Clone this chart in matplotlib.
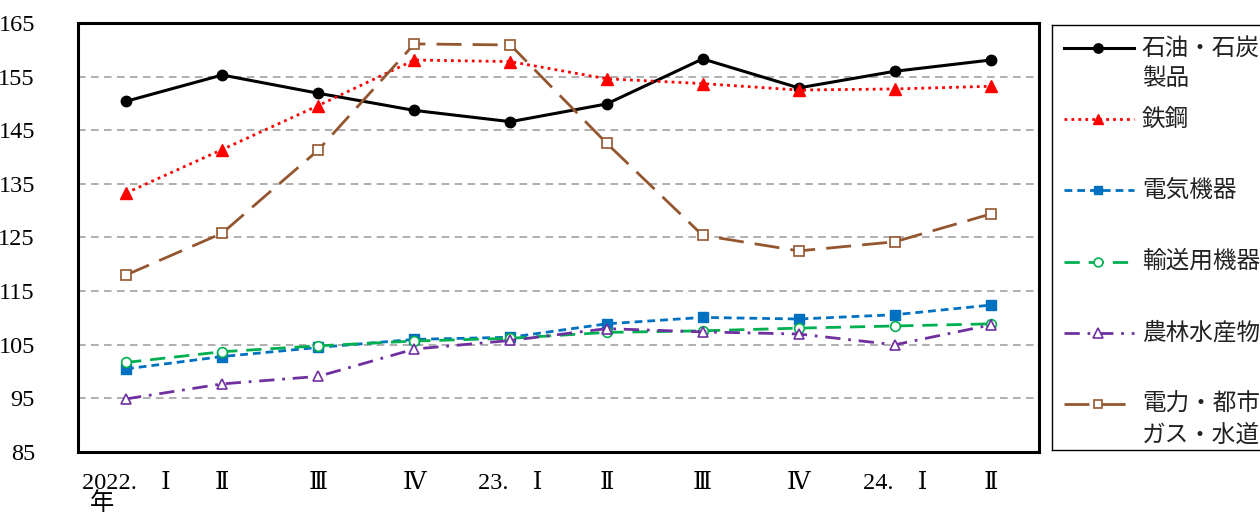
import matplotlib
matplotlib.use("Agg")
import matplotlib.pyplot as plt
from matplotlib.lines import Line2D

plt.rcParams["font.family"] = ["Noto Sans CJK JP", "DejaVu Sans"]

quarters = ["2022.\u3000Ⅰ\n年\u3000\u3000", "Ⅱ", "Ⅲ", "Ⅳ", "23.\u3000Ⅰ",
            "Ⅱ", "Ⅲ", "Ⅳ", "24.\u3000Ⅰ", "Ⅱ"]
y_ticks = [85, 95, 105, 115, 125, 135, 145, 155, 165]

oil_coal = [150.4, 155.3, 151.9, 148.7, 146.6, 149.9, 158.3, 152.9, 156.0, 158.1]
steel = [133.3, 141.4, 149.6, 158.1, 157.8, 154.6, 153.7, 152.5, 152.7, 153.2]
electric_machinery = [100.5, 102.8, 104.5, 106.0, 106.4, 108.9, 110.1, 109.8, 110.6, 112.4]
transport_equipment = [101.7, 103.7, 104.8, 105.7, 106.2, 107.3, 107.6, 108.1, 108.5, 108.9]
farm_products = [94.9, 97.7, 99.1, 104.2, 105.8, 108.0, 107.4, 107.0, 105.0, 108.7]
power_gas_water = [118.0, 125.8, 141.3, 161.1, 160.9, 142.6, 125.4, 122.5, 124.2, 129.4]

series_labels = ["石油・石炭\n製品", "鉄鋼", "電気機器", "輸送用機器",
                 "農林水産物", "電力・都市\nガス・水道"]

styles = [
    dict(color="black", lw=2.2, ls="-", marker="o", ms=7.5, mfc="black"),
    dict(color="#FF0000", lw=2.0, ls=(0, (1, 1.5)), marker="^", ms=8, mfc="#FF0000"),
    dict(color="#0070C0", lw=2.0, ls=(0, (2.8, 1.8)), marker="s", ms=7, mfc="#0070C0"),
    dict(color="#00B050", lw=2.0, ls=(0, (5.5, 3.2)), marker="o", ms=7, mfc="white", mew=1.2),
    dict(color="#7030A0", lw=2.0, ls=(0, (5.5, 2.8, 1, 2.8)), marker="^", ms=7.5, mfc="white", mew=1.2),
    dict(color="#94562F", lw=2.0, ls=(0, (9, 4)), marker="s", ms=7, mfc="white", mew=1.2),
]

all_series = [oil_coal, steel, electric_machinery, transport_equipment,
              farm_products, power_gas_water]

fig = plt.figure(figsize=(12.6, 5.16), dpi=100)
ax = fig.add_axes([78 / 1260, 64 / 516, 961 / 1260, 429 / 516])

x = list(range(len(quarters)))
for values, st in zip(all_series, styles):
    ax.plot(x, values, **st)

ax.set_xlim(-0.5, len(quarters) - 0.5)
ax.set_ylim(85, 165)
ax.set_yticks(y_ticks)
ax.set_xticks(x)
ax.set_xticklabels(quarters, linespacing=0.93)
ax.tick_params(length=0)
ax.tick_params(axis="y", pad=31)
ax.tick_params(axis="x", pad=15)
for lab in ax.get_xticklabels() + ax.get_yticklabels():
    lab.set_family(["Liberation Serif", "DejaVu Serif", "Noto Sans CJK JP"])
    lab.set_fontsize(17.5)
for y in y_ticks[1:-1]:
    ax.axhline(y, color="#9A9A9A", lw=1.1, ls=(0, (5, 3.5)), zorder=0)
for sp in ax.spines.values():
    sp.set_linewidth(2.2)

# hand-drawn legend box
lg = fig.add_axes([1052 / 1260, 66 / 516, 212 / 1260, 425 / 516])
lg.set_xlim(0, 1)
lg.set_ylim(0, 1)
lg.set_xticks([])
lg.set_yticks([])
for sp in lg.spines.values():
    sp.set_linewidth(1.0)
lg.spines["right"].set_visible(False)
row_step = 71.2 / 425
line_step = 31 / 425
for i, (label, st) in enumerate(zip(series_labels, styles)):
    yy = 1 - 23 / 425 - i * row_step
    h = Line2D([0.057, 0.386], [yy, yy], **{k: v for k, v in st.items() if k != "marker"})
    lg.add_line(h)
    mk = Line2D([0.219], [yy], marker=st["marker"], ms=st["ms"] * 0.9, color=st["color"],
                mfc=st["mfc"], mew=st.get("mew", 1.0), ls="none")
    lg.add_line(mk)
    for j, part in enumerate(label.split("\n")):
        lg.text(0.424, yy - j * line_step, part, fontsize=17, va="center", ha="left",
                color="#222222")

fig.savefig("out.png", dpi=100)
